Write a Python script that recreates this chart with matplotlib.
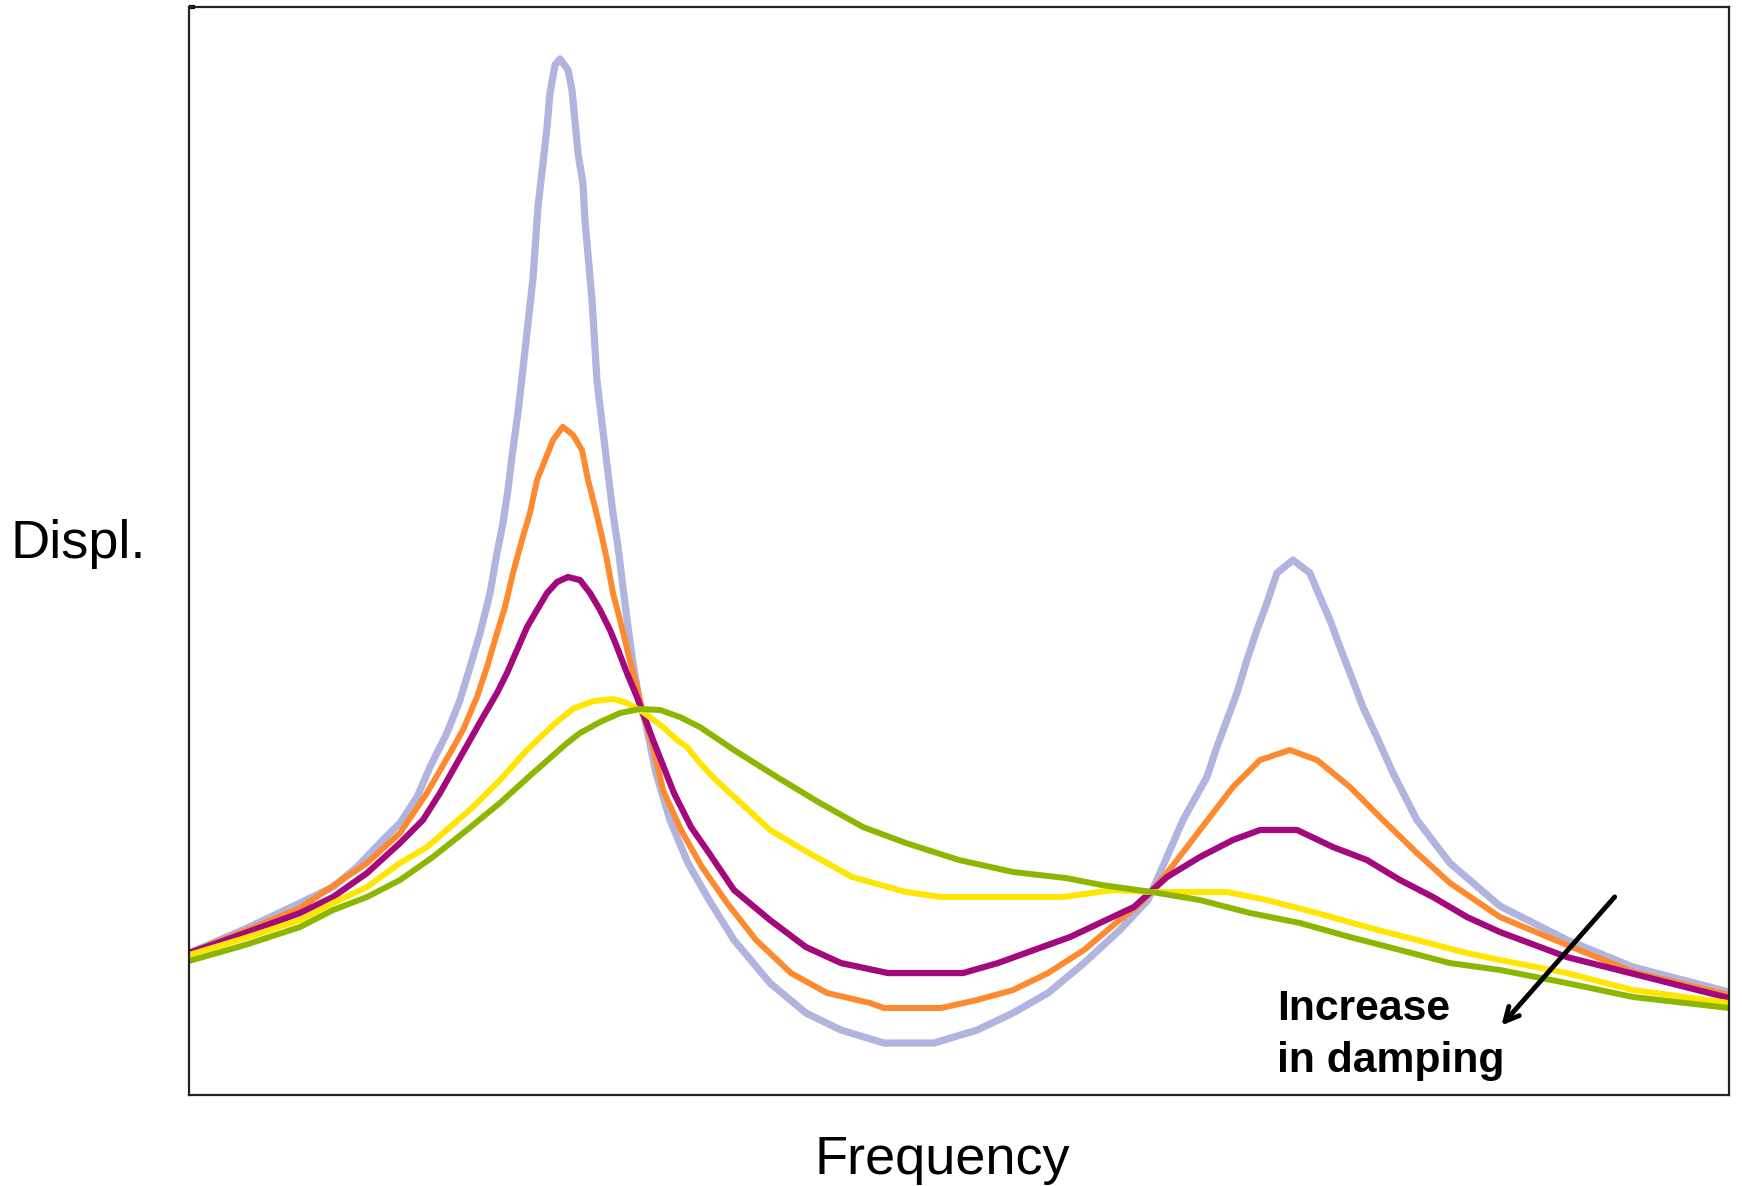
import matplotlib
matplotlib.use("Agg")
import matplotlib.pyplot as plt

# Frequency response of a 2-DOF system for five damping levels
# (arbitrary units: frequency 0-100, displacement 0-100), lightest damping first
freq_1 = [0, 3.64, 7.21, 9.35, 10.91, 12.40, 13.70, 14.81, 15.65, 16.75, 17.60, 18.25,
          18.90, 19.55, 20.00, 20.39, 20.71, 20.97, 21.36, 21.62, 22.34, 22.66, 22.99,
          23.25, 23.44, 23.77, 24.09, 24.61, 24.87, 25.06, 25.26, 25.58, 25.71, 26.17,
          26.49, 26.82, 27.21, 27.53, 27.86, 28.18, 28.51, 28.83, 29.29, 29.61, 30.32,
          31.23, 32.40, 33.77, 35.39, 37.73, 40.06, 42.34, 45.13, 48.38, 51.17, 53.51,
          55.78, 58.12, 60.45, 62.27, 63.05, 64.55, 66.10, 66.75, 67.40, 68.05, 68.70,
          69.35, 70.00, 70.65, 71.69, 72.79, 73.44, 74.09, 74.74, 75.39, 76.23, 77.14,
          78.18, 79.74, 81.88, 85.13, 89.48, 93.77, 100]
disp_1 = [13.05, 15.26, 17.65, 19.12, 20.96, 23.16, 25.00, 27.39, 30.15, 33.27, 36.31, 39.34,
          42.46, 46.14, 49.82, 52.57, 55.61, 58.64, 62.68, 65.90, 75.09, 81.62, 85.66,
          88.97, 92.10, 94.67, 95.22, 94.21, 92.37, 89.61, 86.58, 83.82, 80.42, 73.07,
          65.72, 61.76, 57.17, 53.49, 50.37, 46.69, 43.01, 39.71, 35.85, 34.47, 29.60,
          25.28, 21.32, 17.92, 14.25, 10.29, 7.54, 5.97, 4.78, 4.78, 5.97, 7.54,
          9.38, 12.13, 15.17, 17.92, 20.40, 25.28, 29.23, 31.99, 34.47, 36.95, 39.98,
          42.74, 45.22, 47.98, 49.17, 47.98, 45.77, 43.66, 41.18, 38.79, 35.66, 32.90,
          29.60, 25.28, 21.32, 17.37, 14.25, 11.76, 9.47]

freq_2 = [0, 3.64, 7.21, 11.56, 13.70, 15.45, 16.95, 17.79, 18.70, 19.35, 20.00, 20.52,
          21.04, 21.62, 22.14, 22.60, 23.12, 23.64, 24.27, 24.94, 25.52, 25.91, 26.36,
          26.82, 27.14, 27.53, 27.99, 28.51, 29.09, 29.48, 30.13, 30.78, 31.95, 33.31,
          34.94, 36.82, 39.09, 41.43, 44.22, 45.13, 48.83, 51.17, 53.51, 55.78, 58.12,
          60.19, 61.82, 63.51, 65.65, 67.79, 69.55, 71.49, 73.25, 75.39, 77.53, 79.74,
          81.88, 85.13, 89.48, 93.77, 100]
disp_2 = [13.05, 15.07, 17.19, 21.32, 24.08, 27.76, 31.43, 33.55, 36.58, 39.34, 42.46, 44.85,
          47.98, 51.01, 53.49, 56.53, 58.36, 60.20, 61.42, 60.66, 59.28, 56.53, 54.04,
          51.29, 49.17, 46.14, 43.66, 40.63, 37.50, 35.11, 31.99, 28.03, 24.36, 20.96,
          17.65, 14.25, 11.21, 9.38, 8.46, 8.00, 8.00, 8.73, 9.65, 11.21, 13.33,
          15.81, 17.65, 20.40, 24.36, 28.31, 30.79, 31.71, 30.79, 28.31, 25.28, 22.24,
          19.49, 16.36, 13.79, 11.31, 9.19]

freq_3 = [0, 3.64, 7.21, 9.35, 11.56, 13.70, 15.19, 16.30, 17.40, 18.25, 19.09, 20.00,
          20.65, 21.30, 21.95, 22.60, 23.25, 23.90, 24.61, 25.39, 26.04, 26.69, 27.34,
          27.79, 28.44, 29.09, 29.48, 30.13, 31.49, 32.60, 33.77, 35.39, 37.73, 40.06,
          42.34, 45.39, 50.26, 52.53, 54.87, 57.21, 59.55, 61.36, 63.51, 65.65, 67.79,
          69.55, 71.95, 74.29, 76.49, 78.64, 80.78, 82.99, 85.13, 89.48, 100]
disp_3 = [13.05, 14.89, 16.73, 18.20, 20.40, 23.16, 25.28, 27.76, 30.51, 32.63, 34.74, 36.95,
          38.79, 40.90, 43.01, 44.58, 46.14, 47.15, 47.61, 47.33, 46.14, 44.58, 42.74,
          41.18, 38.79, 36.58, 35.11, 32.63, 27.76, 24.63, 22.24, 18.84, 16.08, 13.60,
          12.13, 11.21, 11.21, 12.13, 13.33, 14.52, 16.08, 17.28, 20.04, 21.88, 23.44,
          24.36, 24.36, 22.79, 21.60, 19.76, 18.20, 16.36, 14.98, 12.68, 8.92]

freq_4 = [0, 3.64, 7.21, 9.35, 11.56, 13.70, 15.45, 16.95, 18.44, 20.19, 21.95, 23.64,
          24.94, 26.23, 27.53, 28.44, 29.48, 30.78, 31.69, 32.34, 33.18, 34.22, 37.73,
          40.26, 43.05, 46.56, 48.83, 56.75, 60.00, 62.40, 67.40, 70.00, 73.25, 76.49,
          79.74, 82.99, 85.13, 89.48, 93.77, 100]
disp_4 = [12.87, 14.43, 16.08, 17.65, 19.12, 21.32, 22.79, 24.63, 26.47, 28.95, 31.71, 34.00,
          35.50, 36.20, 36.40, 36.03, 35.20, 33.82, 32.63, 31.99, 30.51, 28.95, 24.36,
          22.24, 20.04, 18.66, 18.20, 18.20, 18.84, 18.66, 18.66, 17.92, 16.73, 15.44,
          14.25, 13.05, 12.41, 11.21, 9.65, 8.46]

freq_5 = [0, 3.64, 7.21, 9.35, 11.56, 13.70, 15.84, 18.05, 20.19, 22.34, 24.55, 25.39,
          26.69, 27.99, 29.29, 30.58, 31.88, 33.18, 35.39, 38.18, 40.97, 43.77, 46.56,
          50.00, 53.51, 56.95, 59.29, 62.53, 65.65, 68.90, 72.14, 75.39, 78.64, 81.88,
          85.13, 89.48, 93.77, 100]
disp_5 = [12.32, 13.79, 15.44, 17.00, 18.20, 19.76, 21.88, 24.36, 26.84, 29.60, 32.35, 33.27,
          34.28, 35.11, 35.48, 35.39, 34.74, 33.82, 31.71, 29.23, 26.84, 24.63, 23.16,
          21.60, 20.50, 19.94, 19.30, 18.66, 17.92, 16.73, 15.81, 14.52, 13.33, 12.13,
          11.49, 10.29, 9.01, 8.00]

series = [
    (freq_1, disp_1, "#b0b4de", 5.2),
    (freq_2, disp_2, "#fe8a30", 4.3),
    (freq_3, disp_3, "#a3087d", 4.5),
    (freq_4, disp_4, "#ffe600", 4.3),
    (freq_5, disp_5, "#8db600", 4.3),
]


def main():
    fig = plt.figure(figsize=(17.42, 11.86), dpi=100)
    ax = fig.add_axes([0.1085, 0.0767, 0.8840, 0.9174])

    for f, d, col, lw in series:
        ax.plot(f, d, color=col, linewidth=lw, solid_joinstyle="round",
                solid_capstyle="butt")

    ax.set_xlim(0, 100)
    ax.set_ylim(0, 100)
    ax.set_xticks([])
    ax.set_yticks([100])
    ax.tick_params(axis="y", direction="in", length=4, width=3, labelleft=False,
                   color="black")
    for sp in ax.spines.values():
        sp.set_linewidth(1.6)
        sp.set_color("#222222")

    fig.text(0.006, 0.541, "Displ.", fontsize=39, family="Liberation Sans",
             va="center", ha="left")
    fig.text(0.541, 0.010, "Frequency", fontsize=39, family="Liberation Sans",
             va="baseline", ha="center")

    ax.text(0.7065, 0.0689, "Increase", transform=ax.transAxes, fontsize=30.7,
            fontweight="bold", family="Liberation Sans", va="baseline")
    ax.text(0.7065, 0.0211, "in damping", transform=ax.transAxes, fontsize=30.7,
            fontweight="bold", family="Liberation Sans", va="baseline")
    ax.annotate("", xy=(0.851, 0.062), xycoords="axes fraction",
                xytext=(0.927, 0.184), textcoords="axes fraction",
                arrowprops=dict(arrowstyle="->,head_length=1.0,head_width=0.5",
                                color="black", lw=3.5))

    fig.savefig("out.png", dpi=100)


if __name__ == '__main__':
    main()
